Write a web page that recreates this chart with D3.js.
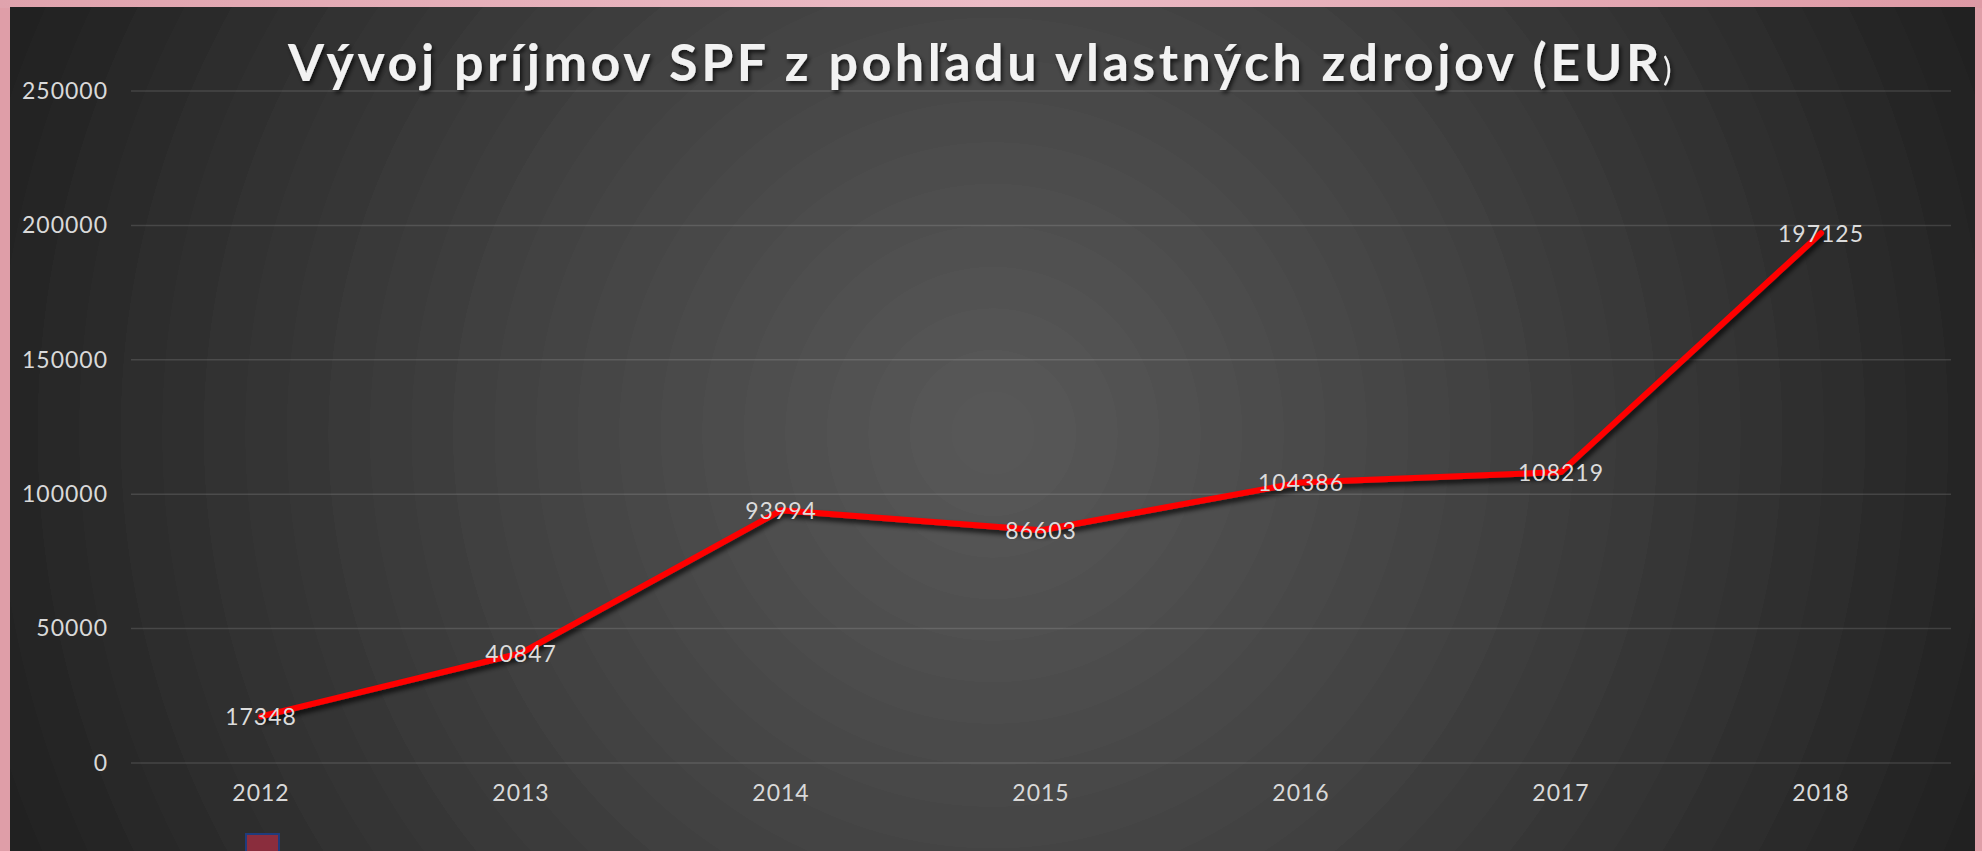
<!DOCTYPE html>
<html>
<head>
<meta charset="utf-8">
<script src="https://cdn.jsdelivr.net/npm/d3@7"></script>
<style>
  html, body { margin: 0; padding: 0; background: #df9ea8; overflow: hidden; }
  svg { display: block; }
</style>
</head>
<body>
<svg id="chart" width="1982" height="851"></svg>
<script>
// Annual own-source income of SPF (EUR)
const years = ["2012", "2013", "2014", "2015", "2016", "2017", "2018"];
const income = [17348, 40847, 93994, 86603, 104386, 108219, 197125];
const yTicks = [0, 50000, 100000, 150000, 200000, 250000];
const titleText = "Vývoj príjmov SPF z pohľadu vlastných zdrojov (EUR";
const titleClose = ")";

const W = 1982, H = 851;
const svg = d3.select("#chart");
const defs = svg.append("defs");

// pink frame with lighter top edge
const frameGrad = defs.append("linearGradient").attr("id", "frameTop")
  .attr("x1", 0).attr("x2", 1).attr("y1", 0).attr("y2", 0);
frameGrad.append("stop").attr("offset", "0%").attr("stop-color", "#e0a3ad");
frameGrad.append("stop").attr("offset", "50%").attr("stop-color", "#ecbcc6");
frameGrad.append("stop").attr("offset", "100%").attr("stop-color", "#de9aa5");
svg.append("rect").attr("width", W).attr("height", H).attr("fill", "#df9ea8");
svg.append("rect").attr("width", W).attr("height", 8).attr("fill", "url(#frameTop)");

// dark panel with stepped radial shading
const panel = { x: 10, y: 7, w: 1965, h: H - 7 };
const bg = defs.append("radialGradient").attr("id", "panelBg")
  .attr("gradientUnits", "userSpaceOnUse")
  .attr("cx", 993).attr("cy", 433).attr("r", 1080);
const steps = 26;
const shade = d3.scaleLinear().domain([0, 1]).range(["#575757", "#1e1e1e"]);
for (let i = 0; i < steps; i++) {
  const t0 = i / steps, t1 = (i + 1) / steps;
  const c = shade(Math.pow(t0, 1.15));
  bg.append("stop").attr("offset", (i === 0 ? 0 : t0 * 100) + "%").attr("stop-color", c);
  bg.append("stop").attr("offset", (t1 * 100 - 0.01) + "%").attr("stop-color", c);
}
svg.append("rect").attr("x", panel.x).attr("y", panel.y)
  .attr("width", panel.w).attr("height", panel.h).attr("fill", "url(#panelBg)");

// shadows
const lineShadow = defs.append("filter").attr("id", "lineShadow")
  .attr("x", "-10%").attr("y", "-10%").attr("width", "120%").attr("height", "120%");
lineShadow.append("feDropShadow").attr("dx", 2).attr("dy", 4).attr("stdDeviation", 2.5)
  .attr("flood-color", "#000").attr("flood-opacity", 0.75);
const textShadow = defs.append("filter").attr("id", "textShadow")
  .attr("x", "-5%").attr("y", "-30%").attr("width", "110%").attr("height", "160%");
textShadow.append("feDropShadow").attr("dx", 2).attr("dy", 3).attr("stdDeviation", 2)
  .attr("flood-color", "#000").attr("flood-opacity", 0.7);

// scales
const plot = { left: 131, right: 1951, top: 91, bottom: 763 };
const x = d3.scaleBand().domain(years).range([plot.left, plot.right]);
const y = d3.scaleLinear().domain([0, 250000]).range([plot.bottom, plot.top]);
const cx = d => x(d) + x.bandwidth() / 2;

// horizontal gridlines
svg.append("g").selectAll("line").data(yTicks).join("line")
  .attr("x1", plot.left).attr("x2", plot.right)
  .attr("y1", d => y(d)).attr("y2", d => y(d))
  .attr("stroke", "#ffffff").attr("stroke-opacity", 0.13).attr("stroke-width", 1.5);

const labelFont = "Lato, 'Open Sans', sans-serif";
const styleLabels = sel => sel
  .style("font-family", labelFont).style("font-size", "23px").style("letter-spacing", "1px");

// y axis
const yAxis = svg.append("g").attr("transform", `translate(${108},0)`)
  .call(d3.axisLeft(y).tickValues(yTicks).tickSize(0).tickPadding(0).tickFormat(d3.format("d")));
yAxis.select(".domain").remove();
yAxis.selectAll("text").attr("fill", "#d9d9d9").call(styleLabels);

// x axis
const xAxis = svg.append("g").attr("transform", `translate(0,${plot.bottom})`)
  .call(d3.axisBottom(x).tickSize(0).tickPadding(22));
xAxis.select(".domain").remove();
xAxis.selectAll("text").attr("fill", "#d9d9d9").call(styleLabels);

// series line
const line = d3.line().x((d, i) => cx(years[i])).y(d => y(d));
svg.append("path").datum(income)
  .attr("d", line).attr("fill", "none")
  .attr("stroke", "#ff0000").attr("stroke-width", 6)
  .attr("stroke-linejoin", "round").attr("stroke-linecap", "round")
  .attr("filter", "url(#lineShadow)");

// value labels centred on each point
svg.append("g").selectAll("text").data(income).join("text")
  .attr("x", (d, i) => cx(years[i])).attr("y", d => y(d))
  .attr("text-anchor", "middle").attr("dominant-baseline", "central")
  .attr("fill", "#dcdcdc")
  .call(styleLabels)
  .text(d => d);

// title
const title = svg.append("text")
  .attr("x", 288).attr("y", 81)
  .attr("fill", "#f2f2f2").attr("filter", "url(#textShadow)")
  .style("font-family", "Lato, 'Open Sans', sans-serif").style("font-weight", 700)
  .style("font-size", "52px");
title.append("tspan").text(titleText);
title.append("tspan").style("font-size", "32px").style("font-weight", 400).text(titleClose);
// spread the title to its full width
const tw = title.node().getComputedTextLength();
const target = 1675 - 288;
const nChars = (titleText + titleClose).length;
title.style("letter-spacing", ((target - tw) / nChars) + "px");

// small legend swatch below the axis
svg.append("rect").attr("x", 246).attr("y", 834).attr("width", 33).attr("height", 24)
  .attr("fill", "#8a2d3d").attr("stroke", "#1f3b7c").attr("stroke-width", 2);
</script>
</body>
</html>
